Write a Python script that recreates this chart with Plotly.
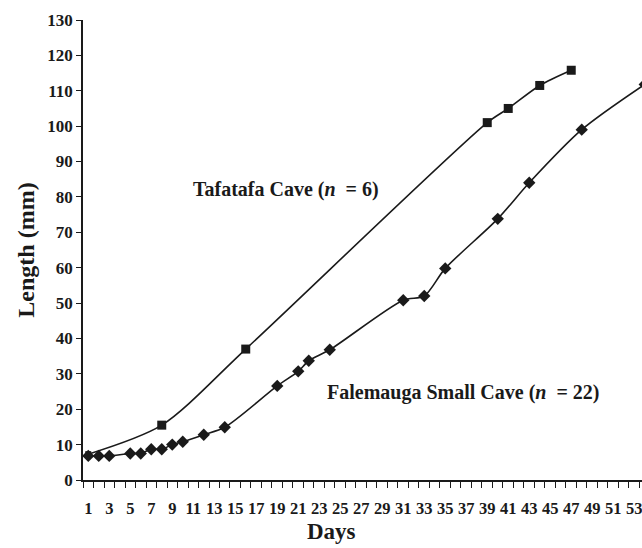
import plotly.graph_objects as go

# Data
tafatafa_days = [1, 8, 16, 39, 41, 44, 47]
tafatafa_len = [7.3, 15.5, 37, 101, 105, 111.5, 115.8]

falemauga_days = [1, 2, 3, 5, 6, 7, 8, 9, 10, 12, 14, 19, 21, 22, 24, 31, 33, 35, 40, 43, 48, 54]
falemauga_len = [6.8, 6.8, 6.8, 7.5, 7.5, 8.7, 8.7, 10.0, 10.8, 12.8, 14.9, 26.6, 30.7, 33.7,
                 36.8, 50.8, 52.0, 59.8, 73.8, 84.0, 99.0, 111.8]

x_tick_days = [1, 3, 5, 7, 9, 11, 13, 15, 17, 19, 21, 23, 25, 27, 29, 31, 33, 35, 37, 39,
               41, 43, 45, 47, 49, 51, 53]
x_tick_labels = [str(d) for d in x_tick_days]
x_boundaries = [d + 0.5 for d in range(0, 54)]
y_ticks = [0, 10, 20, 30, 40, 50, 60, 70, 80, 90, 100, 110, 120, 130]

FONT = "Liberation Serif"
INK = "#1a1a1a"

# first square sits under the first diamond in the reference
taf_sizes = [6] + [9] * (len(tafatafa_days) - 1)

fig = go.Figure()
fig.add_trace(go.Scatter(
    x=tafatafa_days, y=tafatafa_len, mode="lines+markers",
    line=dict(color=INK, width=1.6, shape="spline", smoothing=0.8),
    marker=dict(symbol="square", size=taf_sizes, color=INK, opacity=1,
                line=dict(width=0)),
    name="Tafatafa Cave", showlegend=False,
))
fig.add_trace(go.Scatter(
    x=falemauga_days, y=falemauga_len, mode="lines+markers",
    line=dict(color=INK, width=1.6, shape="spline", smoothing=0.8),
    marker=dict(symbol="diamond", size=9.5, color=INK, line=dict(width=0)),
    name="Falemauga Small Cave", showlegend=False,
))

fig.add_annotation(x=19.8, y=82, text="<b>Tafatafa Cave (<i>n</i>  = 6)</b>",
                   showarrow=False, font=dict(family=FONT, size=20, color=INK))
fig.add_annotation(x=36.7, y=24.6, text="<b>Falemauga Small Cave (<i>n</i>  = 22)</b>",
                   showarrow=False, font=dict(family=FONT, size=20, color=INK))
# x-axis title (the original chart's axis runs past the visible edge, so it sits left of centre)
fig.add_annotation(xref="paper", yref="paper", x=0.445, y=-0.113,
                   xanchor="center", yanchor="middle", showarrow=False,
                   text="<b>Days</b>", font=dict(family=FONT, size=23, color=INK))

fig.update_layout(
    width=642, height=548,
    margin=dict(l=83, r=0, t=20, b=68, autoexpand=False),
    paper_bgcolor="white", plot_bgcolor="white",
    font=dict(family=FONT, color=INK),
)
fig.update_xaxes(
    range=[0.5, 53.74], showgrid=False, zeroline=False, automargin=False,
    showline=True, linecolor=INK, linewidth=1.5,
    tickmode="array", tickvals=x_tick_days, ticktext=x_tick_labels,
    ticks="", ticklabelstandoff=12, tickangle=0, ticklabeloverflow="allow",
    tickfont=dict(family=FONT, size=16.5, weight="bold", color=INK),
    minor=dict(tickmode="array", tickvals=x_boundaries, ticks="outside",
               ticklen=6, tickwidth=1.3, tickcolor=INK, showgrid=False),
)
fig.update_yaxes(
    range=[0, 130], showgrid=False, zeroline=False, automargin=False,
    showline=True, linecolor=INK, linewidth=1.5,
    tickmode="array", tickvals=y_ticks,
    ticks="outside", ticklen=5, tickwidth=1.3, tickcolor=INK,
    tickfont=dict(family=FONT, size=17, weight="bold", color=INK),
    title=dict(text="<b>Length (mm)</b>", font=dict(family=FONT, size=24, color=INK), standoff=6),
)

fig.write_html("out.html", config={"displayModeBar": False},
               post_script="document.body.style.margin='0';")
